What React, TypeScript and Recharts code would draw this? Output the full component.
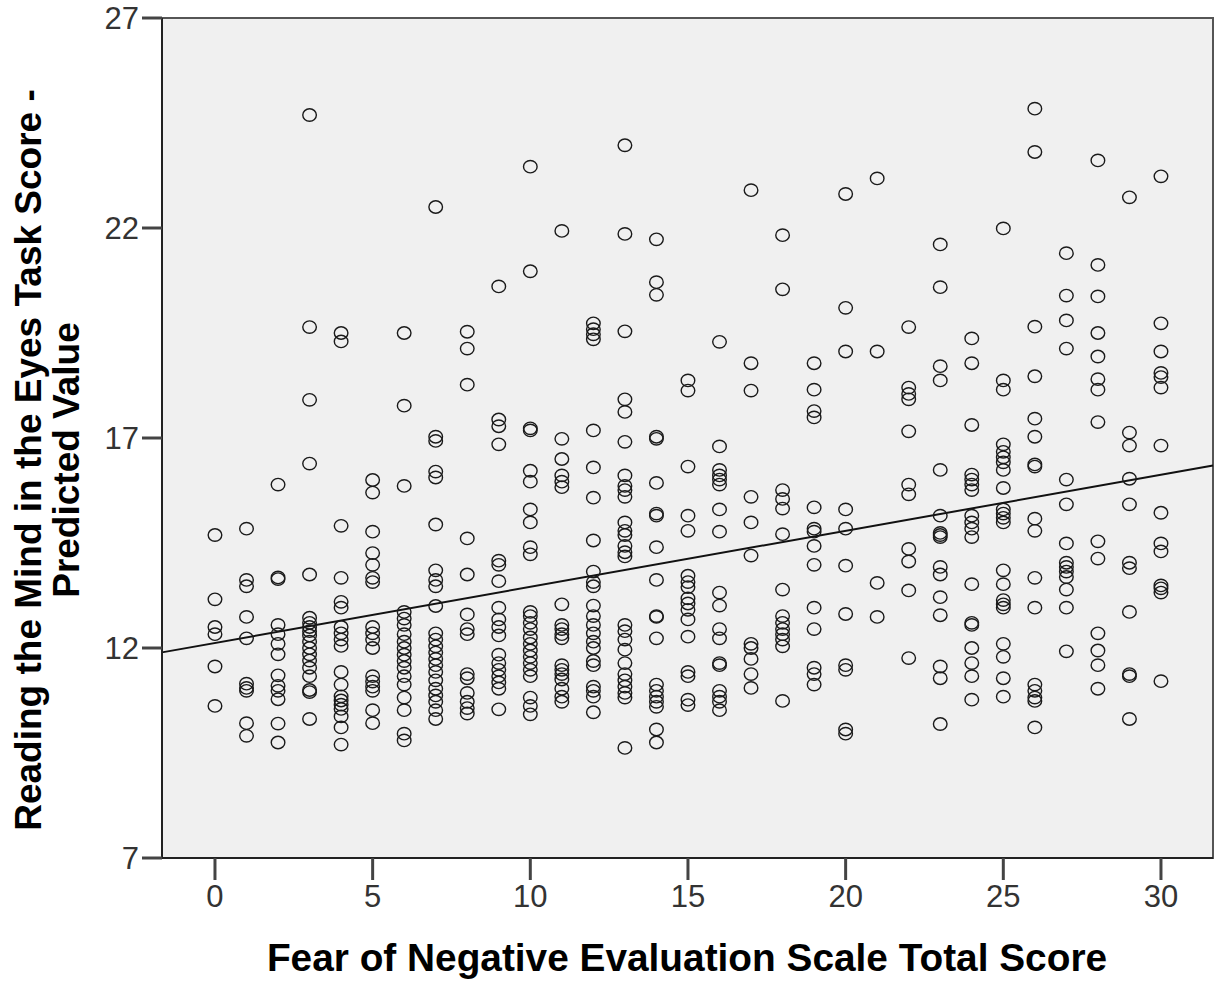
import React from "react"
import {
  ScatterChart,
  Scatter,
  XAxis,
  YAxis,
  CartesianGrid,
  ReferenceArea,
  ReferenceLine,
} from "recharts"

// ============================================
// DATA
// ============================================

// FNE total score = x column, one array of RMET predicted values per column
const fneScores = [
  0, 1, 2, 3, 4, 5, 6, 7, 8, 9, 10, 11, 12, 13, 14, 15, 16, 17, 18, 19, 20,
  21, 22, 23, 24, 25, 26, 27, 28, 29, 30,
]

const rmetByFne: number[][] = [
  [14.69, 13.16, 12.5, 12.33, 11.56, 10.62],
  [14.84, 13.62, 13.47, 12.74, 12.23, 11.15, 11.05, 10.98, 10.21, 9.91],
  [15.89, 13.68, 13.64, 12.55, 12.33, 12.1, 11.85, 11.35, 11.1, 10.98, 10.78, 10.2, 9.75],
  [24.69, 19.64, 17.91, 16.39, 13.75, 12.72, 12.6, 12.5, 12.4, 12.3, 12.15, 12.0, 11.85, 11.7, 11.53, 11.33, 11.0, 10.95, 10.31],
  [19.5, 19.3, 14.91, 13.67, 13.1, 12.96, 12.5, 12.35, 12.2, 12.05, 11.43, 11.13, 10.85, 10.75, 10.65, 10.55, 10.37, 10.11, 9.7],
  [16.0, 15.7, 14.77, 14.26, 13.98, 13.67, 13.57, 12.5, 12.35, 12.2, 12.0, 11.33, 11.2, 11.08, 10.98, 10.52, 10.21],
  [19.5, 17.77, 15.86, 12.86, 12.7, 12.55, 12.33, 12.15, 12.0, 11.84, 11.69, 11.53, 11.33, 11.13, 10.82, 10.52, 9.96, 9.8],
  [22.5, 17.03, 16.93, 16.2, 16.06, 14.94, 13.85, 13.62, 13.47, 13.0, 12.35, 12.2, 12.04, 11.89, 11.74, 11.59, 11.43, 11.23, 11.03, 10.87, 10.72, 10.52, 10.31],
  [19.53, 19.13, 18.27, 14.61, 13.75, 12.8, 12.45, 12.33, 11.38, 11.28, 10.93, 10.72, 10.57, 10.44],
  [20.61, 17.44, 17.28, 16.85, 14.08, 13.98, 13.59, 12.96, 12.68, 12.5, 12.3, 11.84, 11.64, 11.48, 11.33, 11.18, 11.03, 10.54],
  [23.46, 20.97, 17.23, 17.18, 16.22, 15.96, 15.3, 14.99, 14.4, 14.23, 12.86, 12.76, 12.6, 12.45, 12.25, 12.1, 11.94, 11.79, 11.64, 11.48, 11.33, 10.82, 10.62, 10.42],
  [21.93, 16.98, 16.5, 16.11, 15.96, 15.83, 13.04, 12.55, 12.45, 12.33, 12.23, 11.59, 11.48, 11.38, 11.25, 11.03, 10.84, 10.72],
  [19.73, 19.59, 19.47, 19.35, 17.18, 16.3, 15.58, 14.56, 13.82, 13.57, 13.47, 13.01, 12.76, 12.55, 12.35, 12.15, 12.0, 11.69, 11.59, 11.08, 10.98, 10.84, 10.47],
  [23.97, 21.86, 19.54, 17.92, 17.62, 16.91, 16.11, 15.86, 15.76, 15.6, 14.99, 14.79, 14.69, 14.43, 14.28, 14.18, 12.55, 12.4, 12.2, 11.96, 11.64, 11.38, 11.23, 11.08, 10.93, 10.82, 9.62],
  [21.73, 20.71, 20.41, 17.03, 16.98, 15.93, 15.2, 15.15, 14.4, 13.62, 12.76, 12.74, 12.23, 11.13, 10.98, 10.84, 10.72, 10.6, 10.06, 9.75],
  [18.37, 18.13, 16.32, 15.15, 14.79, 13.72, 13.57, 13.45, 13.18, 13.06, 12.91, 12.68, 12.27, 11.43, 11.33, 10.77, 10.64],
  [19.29, 16.8, 16.24, 16.11, 16.01, 15.89, 15.3, 14.77, 13.32, 13.01, 12.45, 12.23, 11.64, 11.59, 10.98, 10.84, 10.72, 10.52],
  [22.9, 18.78, 18.13, 15.6, 14.99, 14.2, 12.1, 12.0, 11.74, 11.38, 11.05],
  [21.83, 20.54, 15.76, 15.55, 15.32, 14.71, 13.39, 12.76, 12.6, 12.45, 12.33, 12.2, 12.04, 10.74],
  [18.78, 18.15, 17.64, 17.49, 15.35, 14.84, 14.77, 14.43, 13.98, 12.96, 12.45, 11.53, 11.38, 11.13],
  [22.81, 20.1, 19.06, 15.3, 14.84, 13.96, 12.81, 11.59, 11.48, 10.06, 9.96],
  [23.18, 19.06, 13.55, 12.74],
  [19.64, 18.2, 18.05, 17.92, 17.16, 15.89, 15.66, 14.36, 14.06, 13.37, 11.76],
  [21.61, 20.59, 18.71, 18.37, 16.24, 15.15, 14.74, 14.69, 14.64, 13.93, 13.75, 13.21, 12.78, 11.56, 11.28, 10.19],
  [19.37, 18.78, 17.31, 16.13, 16.01, 15.89, 15.76, 15.15, 14.99, 14.84, 14.64, 13.52, 12.6, 12.55, 12.0, 11.64, 11.33, 10.77],
  [21.99, 18.37, 18.15, 16.85, 16.67, 16.54, 16.42, 16.24, 15.81, 15.3, 15.2, 15.1, 14.99, 13.85, 13.52, 13.14, 13.04, 12.96, 12.1, 11.79, 11.28, 10.84],
  [24.84, 23.81, 19.65, 18.47, 17.46, 17.03, 16.37, 16.32, 15.08, 14.79, 13.67, 12.96, 11.13, 10.98, 10.82, 10.74, 10.11],
  [21.4, 20.39, 19.8, 19.13, 16.01, 15.42, 14.49, 14.03, 13.93, 13.82, 13.69, 13.39, 12.96, 11.92],
  [23.61, 21.12, 20.37, 19.5, 18.94, 18.4, 18.15, 17.38, 14.54, 14.13, 12.35, 11.94, 11.59, 11.03],
  [22.73, 17.13, 16.82, 16.03, 15.42, 14.03, 13.9, 12.86, 11.38, 11.33, 10.31],
  [23.23, 19.73, 19.06, 18.55, 18.45, 18.2, 16.82, 15.22, 14.49, 14.3, 13.49, 13.42, 13.32, 11.21],
]

const xTicks = [0, 5, 10, 15, 20, 25, 30]
const yTicks = [7, 12, 17, 22, 27]
const xDomain: [number, number] = [-1.68, 31.65]
const yDomain: [number, number] = [7, 27]

// fit line (linear)
const fitIntercept = 12.12
const fitSlope = 0.1335

// ============================================
// BUILD POINTS
// ============================================

type Point = { fne: number; rmet: number }

const points: Point[] = fneScores.flatMap((fne, i) =>
  rmetByFne[i].map((rmet) => ({ fne, rmet }))
)

const fitSegment = xDomain.map((x) => ({ x, y: fitIntercept + fitSlope * x }))

// ============================================
// SHAPES
// ============================================

function HollowCircle(props: any) {
  const { cx, cy } = props
  if (cx == null || cy == null) return null
  return (
    <ellipse
      cx={cx}
      cy={cy}
      rx={6.8}
      ry={6.2}
      fill="none"
      stroke="#1a1a1a"
      strokeWidth={1.4}
    />
  )
}

const titleFont = "'Liberation Sans', Arial, sans-serif"
const tickStyle = { fontSize: 31, fill: "#333", fontFamily: titleFont }

// ============================================
// COMPONENT
// ============================================

export default function App() {
  return (
    <div
      style={{
        position: "absolute",
        left: 0,
        top: 0,
        width: 1217,
        height: 983,
        background: "#fff",
        fontFamily: titleFont,
      }}
    >
      <ScatterChart
        width={1217}
        height={983}
        margin={{ top: 18, right: 4, bottom: 0, left: 0 }}
      >
        <CartesianGrid fill="#f0f0f0" horizontal={false} vertical={false} />
        <ReferenceArea
          x1={xDomain[0]}
          x2={xDomain[1]}
          y1={yDomain[0]}
          y2={yDomain[1]}
          fill="none"
          stroke="#555"
          strokeWidth={2}
          fillOpacity={0}
          ifOverflow="extendDomain"
        />
        <XAxis
          type="number"
          dataKey="fne"
          domain={xDomain}
          ticks={xTicks}
          allowDataOverflow
          height={125}
          tickSize={22}
          tickMargin={5}
          tick={tickStyle}
          axisLine={{ stroke: "#222", strokeWidth: 2 }}
          tickLine={{ stroke: "#444", strokeWidth: 3 }}
        />
        <YAxis
          type="number"
          dataKey="rmet"
          domain={yDomain}
          ticks={yTicks}
          allowDataOverflow
          width={162}
          tickSize={20}
          tickMargin={3}
          tick={tickStyle}
          axisLine={{ stroke: "#222", strokeWidth: 2 }}
          tickLine={{ stroke: "#444", strokeWidth: 3 }}
        />
        <Scatter
          data={points}
          shape={<HollowCircle />}
          isAnimationActive={false}
        />
        <ReferenceLine
          segment={fitSegment}
          stroke="#111"
          strokeWidth={2}
          ifOverflow="visible"
        />
      </ScatterChart>

      {/* Y axis title, two lines */}
      <div
        style={{
          position: "absolute",
          left: 48,
          top: 460,
          transform: "translate(-50%, -50%) rotate(-90deg)",
          whiteSpace: "nowrap",
          textAlign: "center",
          fontWeight: "bold",
          fontSize: 37,
          lineHeight: "38px",
          color: "#000",
        }}
      >
        Reading the Mind in the Eyes Task Score -
        <br />
        Predicted Value
      </div>

      {/* X axis title */}
      <div
        style={{
          position: "absolute",
          left: 687,
          top: 958,
          transform: "translate(-50%, -50%)",
          whiteSpace: "nowrap",
          fontWeight: "bold",
          fontSize: 38.8,
          color: "#000",
        }}
      >
        Fear of Negative Evaluation Scale Total Score
      </div>
    </div>
  )
}
